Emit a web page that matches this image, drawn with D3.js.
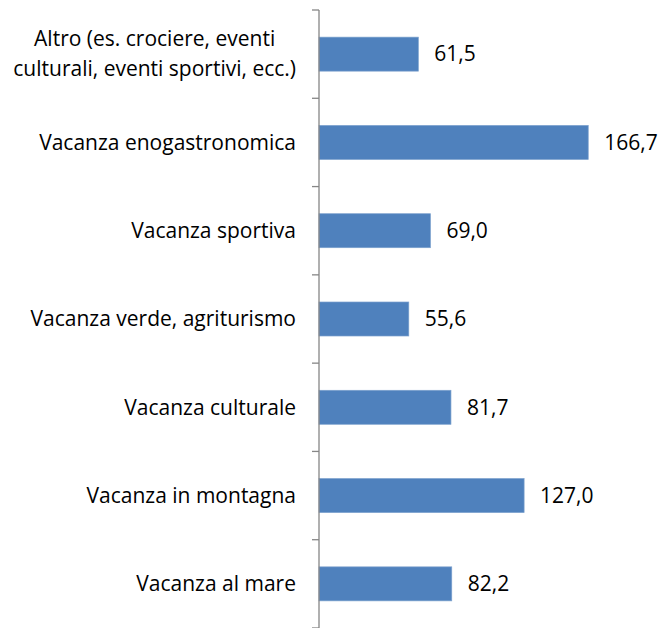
<!DOCTYPE html>
<html>
<head>
<meta charset="utf-8">
<script src="https://cdn.jsdelivr.net/npm/d3@7"></script>
<style>
  body { margin: 0; background: #fff; }
  text { font-family: "Open Sans", Carlito, Calibri, sans-serif; fill: #000; }
</style>
</head>
<body>
<div id="chart"></div>
<script>
// categories top to bottom, values in the same order
const categories = [
  ["Altro (es. crociere, eventi", "culturali, eventi sportivi, ecc.)"],
  ["Vacanza enogastronomica"],
  ["Vacanza sportiva"],
  ["Vacanza verde, agriturismo"],
  ["Vacanza culturale"],
  ["Vacanza in montagna"],
  ["Vacanza al mare"]
]
const values = [61.5, 166.7, 69.0, 55.6, 81.7, 127.0, 82.2]

const W = 660, H = 628
const axisX = 319, plotTop = 10, plotBottom = 628
const fontSize = '21px'

const svg = d3.select('#chart').append('svg')
  .attr('width', W)
  .attr('height', H)

const x = d3.scaleLinear()
  .domain([0, 180])
  .range([axisX, axisX + 290.7])

const keys = categories.map((c, i) => i)
const y = d3.scaleBand()
  .domain(keys)
  .range([plotTop, plotBottom])
  .paddingInner(0.615)
  .paddingOuter(0.3075)

const fmt = v => d3.format('.1f')(v).replace('.', ',')

// bars
svg.append('g').selectAll('rect')
  .data(values)
  .join('rect')
    .attr('x', x(0))
    .attr('y', (d, i) => y(i))
    .attr('width', d => x(d) - x(0))
    .attr('height', y.bandwidth())
    .attr('fill', '#4F81BD')
    .attr('stroke', '#7BA0CD')
    .attr('stroke-width', 0.7)

// value labels
svg.append('g').selectAll('text')
  .data(values)
  .join('text')
    .attr('x', d => x(d) + 16)
    .attr('y', (d, i) => y(i) + y.bandwidth() / 2)
    .attr('dy', '0.35em')
    .style('font-size', fontSize)
    .text(d => fmt(d))

// vertical axis line + ticks at band boundaries
const ax = svg.append('g')
ax.append('line')
  .attr('x1', axisX).attr('x2', axisX)
  .attr('y1', plotTop).attr('y2', plotBottom)
  .attr('stroke', '#868686')
  .attr('stroke-width', 1.3)
const step = (plotBottom - plotTop) / categories.length
d3.range(categories.length + 1).forEach(i => {
  ax.append('line')
    .attr('x1', axisX - 7).attr('x2', axisX)
    .attr('y1', plotTop + i * step).attr('y2', plotTop + i * step)
    .attr('stroke', '#868686')
    .attr('stroke-width', 1.3)
})

// category labels
const labelRight = 296
const lineH = 30
categories.forEach((lines, i) => {
  const cy = y(i) + y.bandwidth() / 2
  const g = svg.append('g')
  const texts = lines.map((t, j) => g.append('text')
    .attr('y', cy + (j - (lines.length - 1) / 2) * lineH)
    .attr('dy', '0.35em')
    .style('font-size', fontSize)
    .text(t))
  if (lines.length == 1) {
    texts[0].attr('x', labelRight).attr('text-anchor', 'end')
  } else {
    const wMax = d3.max(texts, t => t.node().getComputedTextLength())
    texts.forEach(t => t.attr('x', labelRight - wMax / 2).attr('text-anchor', 'middle'))
  }
})
</script>
</body>
</html>
